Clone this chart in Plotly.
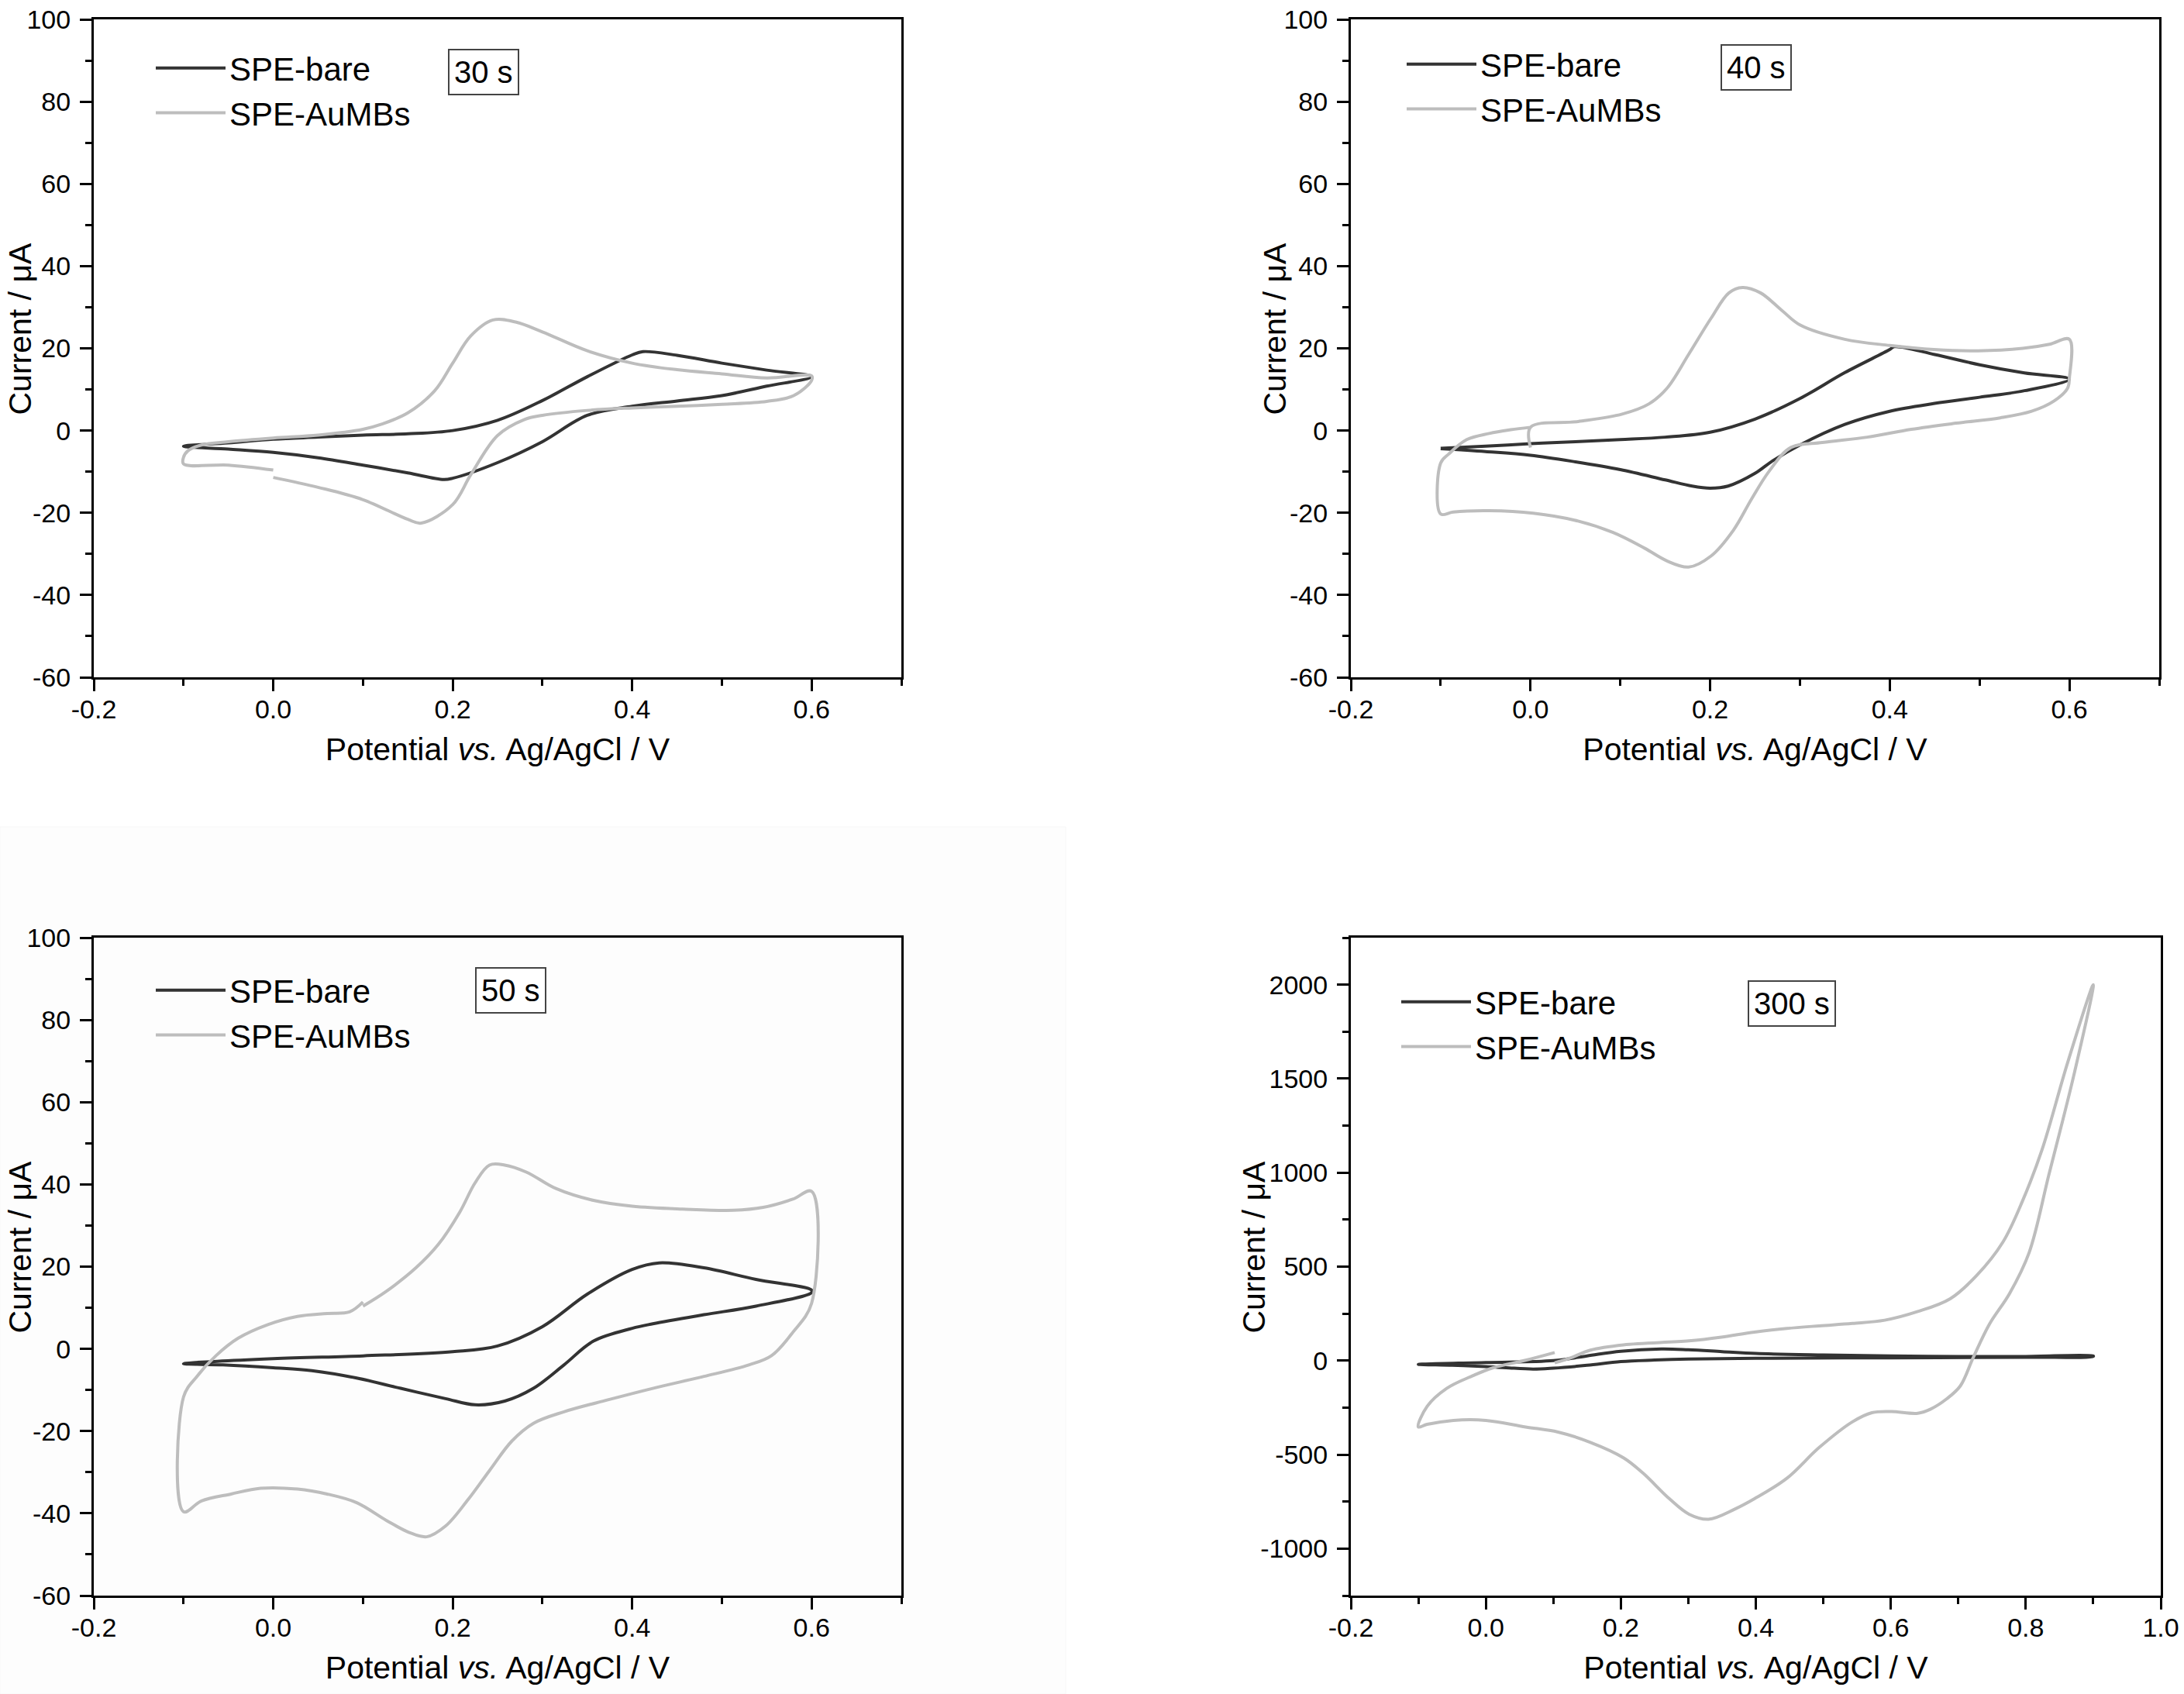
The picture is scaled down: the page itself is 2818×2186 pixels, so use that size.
import plotly.graph_objects as go

# ---------------- data ----------------
# 30 s
bare30_E = [-0.1, -0.05, 0.0, 0.05, 0.1, 0.15, 0.2, 0.25, 0.3, 0.35, 0.4, 0.412, 0.45, 0.5, 0.55, 0.6,
            0.55, 0.5, 0.45, 0.4, 0.35, 0.3, 0.25, 0.2, 0.19, 0.15, 0.1, 0.05, 0.0, -0.05, -0.1]
bare30_I = [-3.8, -3.0, -2.1, -1.6, -1.1, -0.8, 0.0, 2.5, 7.3, 13.1, 18.4, 19.2, 18.3, 16.4, 14.7, 13.1,
            10.8, 8.5, 7.2, 5.9, 3.7, -2.7, -7.8, -11.6, -11.9, -10.3, -8.4, -6.6, -5.3, -4.5, -3.8]
au30_E = [0.0, 0.05, 0.1, 0.15, 0.165, 0.2, 0.22, 0.25, 0.28, 0.3, 0.35, 0.4, 0.45, 0.5, 0.55, 0.58, 0.6, 0.6,
          0.55, 0.5, 0.45, 0.4, 0.35, 0.3, 0.27, 0.245, 0.22, 0.2, 0.18, 0.15, 0.12, 0.1, 0.05, 0.0,
          -0.05, -0.08, -0.095, -0.1, -0.1, -0.05, 0.0]
au30_I = [-11.4, -13.8, -16.8, -21.6, -22.5, -18.0, -10.8, -1.2, 2.7, 3.7, 4.9, 5.5, 5.9, 6.4, 7.1, 8.5, 12.2, 13.3,
          12.8, 13.8, 14.8, 16.4, 19.4, 24.0, 26.4, 26.9, 23.0, 16.4, 9.7, 4.3, 1.5, 0.3, -1.1, -1.8,
          -2.7, -3.5, -4.9, -6.5, -8.1, -8.4, -9.6]

# 40 s
bare40_E = [-0.1, -0.05, 0.0, 0.05, 0.1, 0.15, 0.2, 0.25, 0.3, 0.35, 0.4, 0.405, 0.45, 0.5, 0.55, 0.6,
            0.55, 0.5, 0.45, 0.4, 0.35, 0.3, 0.27, 0.25, 0.22, 0.2, 0.18, 0.15, 0.1, 0.05, 0.0, -0.05, -0.1]
bare40_I = [-4.3, -3.8, -3.2, -2.7, -2.2, -1.6, -0.4, 2.8, 7.8, 14.1, 19.7, 20.4, 18.5, 16.0, 14.0, 12.5,
            9.7, 8.1, 6.6, 4.7, 1.5, -3.5, -7.3, -10.4, -13.5, -14.0, -13.5, -12.0, -9.5, -7.6, -6.0, -5.1, -4.4]
au40_E = [0.0, 0.0, 0.053, 0.102, 0.132, 0.152, 0.176, 0.201, 0.221, 0.236, 0.256, 0.28, 0.3, 0.35, 0.4, 0.449,
          0.498, 0.548, 0.578, 0.6, 0.6, 0.598, 0.583, 0.558, 0.523, 0.474, 0.424, 0.375, 0.325, 0.29, 0.266,
          0.246, 0.226, 0.201, 0.176, 0.152, 0.127, 0.092, 0.053, 0.003, -0.046, -0.086, -0.1, -0.1, -0.091,
          -0.071, -0.046, -0.022, 0.0]
au40_I = [-4.1, 0.8, 2.2, 4.0, 6.5, 10.3, 18.5, 27.3, 33.5, 34.8, 33.5, 29.2, 25.7, 22.2, 20.7, 19.7,
          19.4, 20.0, 21.0, 22.2, 12.8, 10.3, 7.2, 4.7, 3.1, 1.8, 0.3, -1.6, -2.9, -4.1, -9.8,
          -16.7, -24.2, -30.5, -33.2, -31.7, -28.6, -24.8, -22.0, -20.1, -19.5, -19.8, -20.3, -7.9, -5.7,
          -2.2, -0.7, 0.2, 0.8]

# 50 s
bare50_E = [-0.1, 0.0, 0.1, 0.2, 0.25, 0.3, 0.35, 0.4, 0.43, 0.48, 0.538, 0.6,
            0.6, 0.538, 0.48, 0.423, 0.4, 0.357, 0.324, 0.29, 0.258, 0.225, 0.192, 0.142, 0.093, 0.043, 0.0, -0.056, -0.1]
bare50_I = [-3.6, -2.4, -1.7, -0.7, 0.7, 5.4, 13.3, 19.3, 20.9, 19.7, 16.9, 14.3,
            13.7, 10.4, 8.3, 6.1, 5.0, 1.9, -3.9, -9.6, -12.7, -13.6, -12.1, -9.6, -7.1, -5.3, -4.6, -3.9, -3.6]
au50_E = [0.1, 0.126, 0.159, 0.184, 0.208, 0.225, 0.241, 0.258, 0.282, 0.315, 0.357, 0.4, 0.456, 0.513, 0.546,
          0.579, 0.6, 0.6, 0.579, 0.555, 0.53, 0.48, 0.423, 0.373, 0.324, 0.29, 0.266, 0.241, 0.217, 0.192,
          0.171, 0.151, 0.126, 0.093, 0.06, 0.027, -0.014, -0.047, -0.08, -0.1, -0.1, -0.085, -0.064, -0.039,
          -0.006, 0.027, 0.06, 0.085, 0.1]
au50_I = [10.4, 14.0, 19.7, 25.4, 33.3, 40.4, 44.7, 44.7, 43.0, 39.0, 36.1, 34.7, 34.0, 33.7, 34.4,
          36.4, 38.3, 11.1, 4.0, -1.7, -3.9, -6.7, -9.6, -12.4, -15.3, -18.1, -22.4, -29.6, -36.7, -43.1,
          -45.7, -44.6, -41.7, -37.4, -35.3, -34.1, -33.9, -35.3, -37.0, -39.6, -11.7, -6.7, -1.7, 2.6,
          5.9, 7.9, 8.6, 9.0, 11.4]

# 300 s
bare300_E = [-0.1, 0.0, 0.1, 0.15, 0.2, 0.26, 0.3, 0.35, 0.4, 0.5, 0.6, 0.7, 0.8, 0.9,
             0.9, 0.8, 0.6, 0.4, 0.3, 0.25, 0.2, 0.15, 0.1, 0.07, 0.03, 0.0, -0.05, -0.1]
bare300_I = [-20, -10, 0, 25, 50, 62, 58, 48, 38, 30, 25, 22, 22, 25,
             22, 18, 15, 12, 8, 3, -5, -25, -40, -45, -38, -32, -25, -20]
au300_E = [0.102, 0.126, 0.155, 0.204, 0.301, 0.349, 0.398, 0.446, 0.494, 0.543, 0.591, 0.64, 0.688, 0.727,
           0.766, 0.795, 0.824, 0.862, 0.9, 0.872, 0.834, 0.805, 0.776, 0.746, 0.722, 0.703, 0.683, 0.659,
           0.64, 0.601, 0.572, 0.543, 0.494, 0.446, 0.398, 0.369, 0.33, 0.301, 0.272, 0.233, 0.204, 0.155,
           0.107, 0.059, 0.0, -0.048, -0.087, -0.1, -0.087, -0.058, -0.019, 0.01, 0.059, 0.102]
au300_I = [-12, 15, 56, 84, 105, 125, 152, 171, 185, 198, 215, 261, 329, 452,
           630, 848, 1121, 1585, 2000, 1530, 985, 575, 357, 193, 15, -135, -203, -258,
           -280, -271, -277, -326, -462, -626, -735, -790, -844, -817, -735, -599, -517, -435,
           -380, -353, -318, -318, -339, -353, -244, -148, -80, -39, 2, 43]

time_labels = ["30 s", "40 s", "50 s", "300 s"]
series_names = ["SPE-bare", "SPE-AuMBs"]

x_tickvals_a = [-0.2, 0.0, 0.2, 0.4, 0.6]
x_ticktext_a = ["-0.2", "0.0", "0.2", "0.4", "0.6"]
y_tickvals_a = [-60, -40, -20, 0, 20, 40, 60, 80, 100]
y_ticktext_a = ["-60", "-40", "-20", "0", "20", "40", "60", "80", "100"]
x_tickvals_b = [-0.2, 0.0, 0.2, 0.4, 0.6, 0.8, 1.0]
x_ticktext_b = ["-0.2", "0.0", "0.2", "0.4", "0.6", "0.8", "1.0"]
y_tickvals_b = [-1000, -500, 0, 500, 1000, 1500, 2000]
y_ticktext_b = ["-1000", "-500", "0", "500", "1000", "1500", "2000"]

# ---------------- layout helpers ----------------
W, H = 2818, 2186
DARK = "#333333"
LIGHT = "#bdbdbd"
FONT = "Liberation Sans, Arial, sans-serif"

panels = [
    dict(box=(121, 1163, 25, 874), xr=[-0.2, 0.7], yr=[-60, 100],
         xt=(x_tickvals_a, x_ticktext_a), yt=(y_tickvals_a, y_ticktext_a), mx=0.1, my=10,
         data=[(bare30_E, bare30_I), (au30_E, au30_I)]),
    dict(box=(1743, 2786, 25, 874), xr=[-0.2, 0.7], yr=[-60, 100],
         xt=(x_tickvals_a, x_ticktext_a), yt=(y_tickvals_a, y_ticktext_a), mx=0.1, my=10,
         data=[(bare40_E, bare40_I), (au40_E, au40_I)]),
    dict(box=(121, 1163, 1210, 2059), xr=[-0.2, 0.7], yr=[-60, 100],
         xt=(x_tickvals_a, x_ticktext_a), yt=(y_tickvals_a, y_ticktext_a), mx=0.1, my=10,
         data=[(bare50_E, bare50_I), (au50_E, au50_I)]),
    dict(box=(1743, 2788, 1210, 2059), xr=[-0.2, 1.0], yr=[-1250, 2250],
         xt=(x_tickvals_b, x_ticktext_b), yt=(y_tickvals_b, y_ticktext_b), mx=0.1, my=250,
         data=[(bare300_E, bare300_I), (au300_E, au300_I)]),
]

legend_pos = [(196, 54), (1810, 49), (196, 1244), (1803, 1259)]
box_pos = [(624, 93), (2266, 87), (659, 1278), (2312, 1295)]
ytitle_x = [25, 1644, 25, 1617]

fig = go.Figure()
layout = dict(
    width=W, height=H,
    margin=dict(l=0, r=0, t=0, b=0, autoexpand=False),
    paper_bgcolor="white",
    plot_bgcolor="rgba(0,0,0,0)",
    font=dict(family=FONT, color="black"),
    showlegend=True,
    annotations=[],
    shapes=[dict(type="rect", xref="paper", yref="paper", x0=0, x1=1375 / W,
                 y0=0, y1=1 - 1067 / H, fillcolor="#fdfdfd",
                 line=dict(color="#f7f7f7", width=1), layer="below")],
)

for i, p in enumerate(panels):
    n = i + 1
    xa = "x" if n == 1 else f"x{n}"
    ya = "y" if n == 1 else f"y{n}"
    lg = "legend" if n == 1 else f"legend{n}"
    l, r, t, b = p["box"]
    for (E, I), name, col in zip(p["data"], series_names, [DARK, LIGHT]):
        fig.add_trace(go.Scatter(x=E, y=I, mode="lines", name=name,
                                 line=dict(color=col, width=4, shape="spline", smoothing=1.0),
                                 xaxis=xa, yaxis=ya, legend=lg))
    common = dict(showline=True, linecolor="black", linewidth=3, mirror=True,
                  ticks="outside", ticklen=15, tickwidth=3, tickcolor="black",
                  showgrid=False, zeroline=False, automargin=False,
                  tickfont=dict(family=FONT, size=34, color="black"))
    layout["xaxis" if n == 1 else f"xaxis{n}"] = dict(
        common, domain=[l / W, r / W], range=p["xr"], anchor=ya,
        tickmode="array", tickvals=p["xt"][0], ticktext=p["xt"][1],
        ticklabelstandoff=-6,
        minor=dict(ticks="outside", ticklen=8, tickwidth=3, tickcolor="black",
                   dtick=p["mx"], tick0=0, showgrid=False),
        title=dict(text="Potential <i>vs.</i> Ag/AgCl / V", standoff=20,
                   font=dict(family=FONT, size=41, color="black")))
    layout["yaxis" if n == 1 else f"yaxis{n}"] = dict(
        common, domain=[1 - b / H, 1 - t / H], range=p["yr"], anchor=xa,
        tickmode="array", tickvals=p["yt"][0], ticktext=p["yt"][1],
        ticklabelstandoff=5,
        minor=dict(ticks="outside", ticklen=8, tickwidth=3, tickcolor="black",
                   dtick=p["my"], tick0=0, showgrid=False))
    layout["annotations"].append(dict(
        text="Current / μA", xref="paper", yref="paper",
        x=ytitle_x[i] / W, y=1 - ((t + b) / 2 - 25) / H,
        xanchor="center", yanchor="middle", textangle=-90, showarrow=False,
        font=dict(family=FONT, size=41, color="black")))
    lx, ly = legend_pos[i]
    layout[lg] = dict(x=lx / W, y=1 - ly / H, xanchor="left", yanchor="top",
                      bgcolor="rgba(0,0,0,0)", borderwidth=0, itemwidth=90,
                      font=dict(family=FONT, size=42, color="black"),
                      tracegroupgap=0)
    bx, by = box_pos[i]
    layout["annotations"].append(dict(
        text=time_labels[i], xref="paper", yref="paper", x=bx / W, y=1 - by / H,
        xanchor="center", yanchor="middle", showarrow=False,
        font=dict(family=FONT, size=40, color="black"),
        bordercolor="#444444", borderwidth=2, borderpad=6, bgcolor="white"))

fig.update_layout(**layout)
fig.write_html("out.html",
               config={"displayModeBar": False},
               post_script="document.body.style.margin='0px';document.body.style.overflow='hidden';")
